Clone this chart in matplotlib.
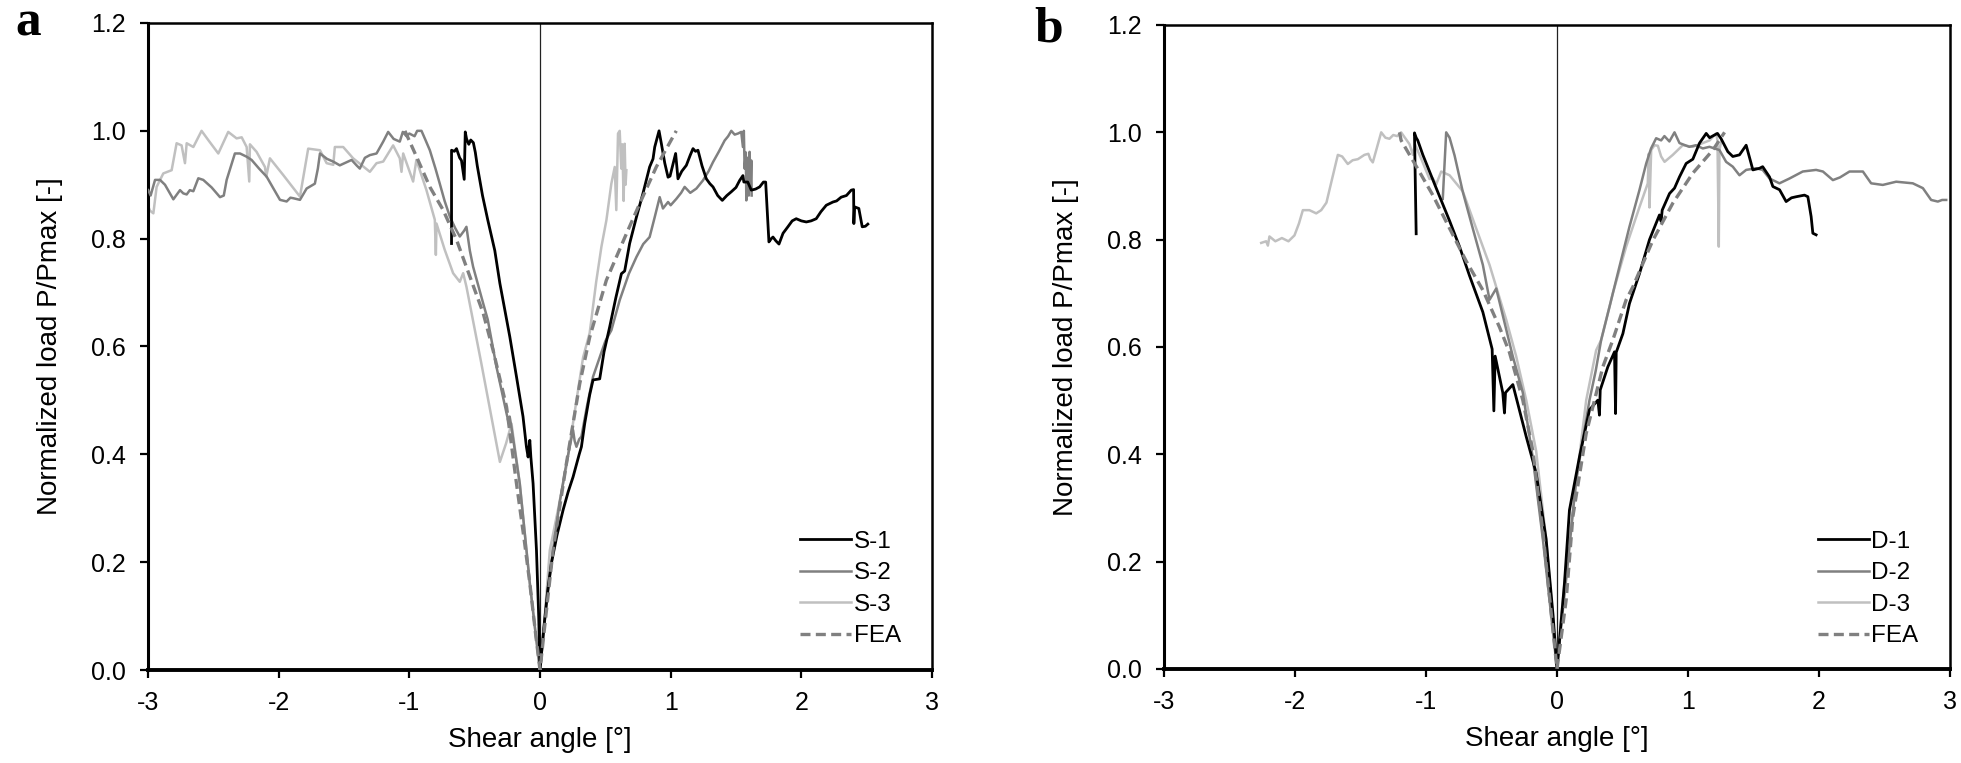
import matplotlib
matplotlib.use('Agg')
import matplotlib.pyplot as plt

plt.rcParams['font.family'] = ['Liberation Sans', 'DejaVu Sans']

# ---- panel a : S specimens + FEA ----
a_s1_x = [-0.677, -0.677, -0.655, -0.639, -0.615, -0.601, -0.580, -0.572, -0.562, -0.545, -0.530, -0.510,
          -0.495, -0.480, -0.440, -0.400, -0.346, -0.307, -0.231, -0.180, -0.130, -0.104, -0.091, -0.078,
          -0.070, -0.053, -0.027, -0.010, 0.0,
          0.030, 0.060, 0.087, 0.130, 0.177, 0.215, 0.253, 0.300, 0.317, 0.342, 0.380, 0.406, 0.457, 0.490,
          0.533, 0.580, 0.623, 0.648, 0.686, 0.738, 0.788, 0.839, 0.865, 0.878, 0.911, 0.929, 0.955, 0.980,
          0.995, 1.038, 1.056, 1.085, 1.120, 1.150, 1.171, 1.190, 1.209, 1.240, 1.273, 1.300, 1.324, 1.360,
          1.395, 1.430, 1.464, 1.500, 1.528, 1.553, 1.560, 1.590, 1.617, 1.650, 1.681, 1.710, 1.727, 1.752,
          1.770, 1.783, 1.805, 1.829, 1.860, 1.897, 1.930, 1.961, 2.000, 2.038, 2.075, 2.114, 2.150, 2.191,
          2.242, 2.270, 2.305, 2.345, 2.382, 2.400, 2.402, 2.407, 2.440, 2.466, 2.490, 2.509]
a_s1_y = [0.791, 0.964, 0.962, 0.967, 0.950, 0.945, 0.910, 0.998, 0.985, 0.975, 0.983, 0.978,
          0.960, 0.935, 0.880, 0.835, 0.778, 0.717, 0.618, 0.544, 0.470, 0.414, 0.395, 0.426,
          0.395, 0.346, 0.222, 0.100, 0.0,
          0.080, 0.150, 0.198, 0.250, 0.297, 0.330, 0.358, 0.400, 0.414, 0.457, 0.510, 0.538, 0.540, 0.590,
          0.636, 0.690, 0.735, 0.740, 0.791, 0.840, 0.884, 0.933, 0.948, 0.970, 1.000, 0.976, 0.940, 0.914,
          0.916, 0.958, 0.911, 0.925, 0.936, 0.955, 0.967, 0.962, 0.964, 0.935, 0.911, 0.902, 0.896, 0.880,
          0.871, 0.880, 0.887, 0.895, 0.908, 0.917, 0.905, 0.905, 0.890, 0.892, 0.896, 0.905, 0.905, 0.794,
          0.800, 0.803, 0.796, 0.790, 0.810, 0.822, 0.833, 0.837, 0.833, 0.831, 0.833, 0.837, 0.850, 0.862,
          0.868, 0.870, 0.877, 0.880, 0.890, 0.891, 0.828, 0.859, 0.856, 0.822, 0.823, 0.827]

a_s2_x = [-2.998, -2.980, -2.946, -2.908, -2.870, -2.806, -2.755, -2.730, -2.704, -2.680, -2.653, -2.615,
          -2.577, -2.513, -2.449, -2.420, -2.398, -2.335, -2.296, -2.245, -2.207, -2.150, -2.092, -2.040,
          -1.990, -1.939, -1.910, -1.888, -1.837, -1.786, -1.723, -1.700, -1.684, -1.630, -1.583, -1.532,
          -1.442, -1.400, -1.379, -1.340, -1.302, -1.251, -1.200, -1.162, -1.120, -1.073, -1.050, -1.022,
          -1.000, -0.960, -0.940, -0.907, -0.880, -0.843, -0.800, -0.767, -0.730, -0.690, -0.650, -0.614,
          -0.580, -0.563, -0.537, -0.512, -0.435, -0.400, -0.333, -0.256, -0.244, -0.232, -0.219, -0.155,
          -0.078, -0.030, 0.0,
          0.040, 0.100, 0.150, 0.202, 0.253, 0.265, 0.279, 0.300, 0.317, 0.360, 0.406, 0.457, 0.500, 0.546,
          0.610, 0.680, 0.738, 0.790, 0.839, 0.878, 0.916, 0.941, 0.980, 1.000, 1.044, 1.080, 1.107, 1.150,
          1.197, 1.247, 1.290, 1.324, 1.370, 1.413, 1.440, 1.464, 1.490, 1.515, 1.540, 1.553, 1.560, 1.566,
          1.575, 1.579, 1.590, 1.598, 1.604, 1.612, 1.617, 1.620]
a_s2_y = [0.890, 0.880, 0.909, 0.909, 0.900, 0.873, 0.890, 0.884, 0.882, 0.890, 0.888, 0.912,
          0.909, 0.895, 0.877, 0.880, 0.909, 0.958, 0.958, 0.952, 0.946, 0.930, 0.915, 0.893,
          0.872, 0.869, 0.876, 0.875, 0.872, 0.893, 0.902, 0.930, 0.958, 0.948, 0.943, 0.936,
          0.946, 0.935, 0.930, 0.950, 0.955, 0.958, 0.980, 0.998, 0.985, 0.980, 0.998, 0.990,
          0.995, 0.990, 1.000, 1.000, 0.985, 0.964, 0.930, 0.902, 0.870, 0.841, 0.820, 0.804,
          0.815, 0.822, 0.778, 0.748, 0.680, 0.650, 0.562, 0.476, 0.463, 0.470, 0.451, 0.346,
          0.161, 0.060, 0.0,
          0.100, 0.222, 0.310, 0.383, 0.445, 0.425, 0.414, 0.428, 0.433, 0.490, 0.544, 0.580, 0.610, 0.630,
          0.686, 0.735, 0.766, 0.790, 0.803, 0.840, 0.877, 0.856, 0.868, 0.862, 0.874, 0.885, 0.896, 0.885,
          0.893, 0.908, 0.925, 0.942, 0.962, 0.982, 0.990, 1.000, 0.993, 0.995, 0.998, 0.970, 1.000, 0.930,
          0.960, 0.871, 0.950, 0.880, 0.961, 0.900, 0.945, 0.880]

a_s3_x = [-2.997, -2.985, -2.959, -2.934, -2.883, -2.819, -2.781, -2.743, -2.717, -2.704, -2.653, -2.590,
          -2.539, -2.462, -2.386, -2.322, -2.283, -2.245, -2.225, -2.220, -2.169, -2.105, -2.095, -2.067,
          -1.965, -1.837, -1.774, -1.684, -1.633, -1.582, -1.570, -1.506, -1.430, -1.302, -1.251, -1.200,
          -1.124, -1.073, -1.060, -1.047, -0.971, -0.946, -0.869, -0.805, -0.797, -0.792, -0.730, -0.665,
          -0.614, -0.588, -0.563, -0.450, -0.307, -0.260, -0.218, -0.155, -0.078, -0.030, 0.0,
          0.030, 0.075, 0.140, 0.202, 0.279, 0.330, 0.380, 0.430, 0.470, 0.508, 0.546, 0.572, 0.584, 0.597,
          0.610, 0.622, 0.630, 0.640, 0.648, 0.655, 0.661]
a_s3_y = [0.859, 0.852, 0.847, 0.896, 0.921, 0.927, 0.977, 0.973, 0.940, 0.977, 0.970, 1.000,
          0.983, 0.958, 0.998, 0.986, 0.988, 0.970, 0.906, 0.975, 0.961, 0.933, 0.915, 0.949,
          0.918, 0.878, 0.967, 0.964, 0.940, 0.937, 0.970, 0.970, 0.949, 0.924, 0.940, 0.943,
          0.973, 0.949, 0.924, 0.958, 0.906, 0.946, 0.890, 0.835, 0.770, 0.828, 0.780, 0.736,
          0.720, 0.736, 0.711, 0.570, 0.386, 0.420, 0.457, 0.346, 0.161, 0.060, 0.0,
          0.080, 0.222, 0.300, 0.377, 0.500, 0.580, 0.625, 0.720, 0.785, 0.834, 0.902, 0.933, 0.853, 0.995,
          1.000, 0.930, 0.975, 0.870, 0.976, 0.900, 0.927]

a_fea_x = [-1.034, -0.945, -0.843, -0.741, -0.639, -0.537, -0.435, -0.359, -0.256, -0.180, -0.120, -0.078,
           -0.035, 0.0, 0.040, 0.100, 0.202, 0.304, 0.380, 0.508, 0.661, 0.763, 0.890, 1.043]
a_fea_y = [1.000, 0.952, 0.896, 0.853, 0.798, 0.730, 0.662, 0.593, 0.488, 0.346, 0.240, 0.161,
           0.070, 0.0, 0.090, 0.222, 0.383, 0.531, 0.617, 0.723, 0.809, 0.865, 0.933, 1.000]

# ---- panel b : D specimens + FEA ----
b_d1_x = [-1.075, -1.088, -1.075, -1.063, -1.024, -0.922, -0.820, -0.744, -0.668, -0.566, -0.495, -0.482,
          -0.472, -0.414, -0.401, -0.393, -0.337, -0.299, -0.235, -0.159, -0.083, -0.030, 0.0,
          0.057, 0.095, 0.172, 0.248, 0.312, 0.324, 0.330, 0.388, 0.439, 0.447, 0.452, 0.503, 0.553, 0.630,
          0.706, 0.782, 0.795, 0.803, 0.859, 0.897, 0.935, 0.986, 1.037, 1.088, 1.139, 1.165, 1.202, 1.225,
          1.253, 1.304, 1.342, 1.393, 1.444, 1.482, 1.495, 1.546, 1.570, 1.622, 1.648, 1.699, 1.749, 1.790,
          1.826, 1.889, 1.915, 1.940, 1.953, 1.978]
b_d1_y = [0.811, 0.999, 0.990, 0.985, 0.958, 0.896, 0.835, 0.787, 0.733, 0.665, 0.596, 0.481,
          0.583, 0.515, 0.477, 0.515, 0.530, 0.494, 0.433, 0.365, 0.242, 0.100, 0.0,
          0.160, 0.296, 0.396, 0.483, 0.501, 0.473, 0.520, 0.563, 0.591, 0.476, 0.590, 0.625, 0.681, 0.737,
          0.800, 0.846, 0.834, 0.855, 0.886, 0.896, 0.917, 0.942, 0.950, 0.980, 0.998, 0.990, 0.995, 0.998,
          0.988, 0.964, 0.955, 0.958, 0.976, 0.942, 0.930, 0.933, 0.936, 0.917, 0.899, 0.893, 0.871, 0.878,
          0.880, 0.883, 0.880, 0.843, 0.812, 0.809]

b_d2_x = [-0.872, -0.846, -0.820, -0.782, -0.719, -0.643, -0.566, -0.515, -0.464, -0.413, -0.338, -0.261,
          -0.184, -0.108, -0.040, 0.0,
          0.040, 0.080, 0.146, 0.248, 0.295, 0.337, 0.401, 0.477, 0.553, 0.630, 0.681, 0.718, 0.757, 0.795,
          0.820, 0.858, 0.897, 0.935, 1.010, 1.060, 1.113, 1.164, 1.240, 1.291, 1.342, 1.393, 1.444, 1.520,
          1.570, 1.622, 1.698, 1.775, 1.876, 1.978, 2.030, 2.106, 2.160, 2.233, 2.335, 2.398, 2.487, 2.589,
          2.716, 2.793, 2.856, 2.907, 2.940, 2.971]
b_d2_y = [0.876, 1.000, 0.990, 0.957, 0.889, 0.821, 0.753, 0.688, 0.709, 0.658, 0.583, 0.515,
          0.392, 0.242, 0.090, 0.0,
          0.100, 0.190, 0.352, 0.501, 0.555, 0.613, 0.675, 0.750, 0.824, 0.893, 0.942, 0.970, 0.989, 0.985,
          0.993, 0.983, 1.000, 0.980, 0.973, 0.976, 0.970, 0.973, 0.967, 0.945, 0.936, 0.920, 0.930, 0.933,
          0.930, 0.914, 0.905, 0.914, 0.927, 0.930, 0.927, 0.911, 0.916, 0.927, 0.927, 0.905, 0.902, 0.908,
          0.905, 0.896, 0.874, 0.871, 0.874, 0.874]

b_d3_x = [-2.258, -2.220, -2.207, -2.195, -2.150, -2.100, -2.050, -2.004, -1.970, -1.940, -1.890, -1.838,
          -1.800, -1.760, -1.720, -1.673, -1.640, -1.597, -1.560, -1.520, -1.470, -1.440, -1.425, -1.406,
          -1.342, -1.310, -1.279, -1.250, -1.220, -1.190, -1.126, -1.100, -1.085, -1.037, -0.973, -0.950,
          -0.922, -0.884, -0.820, -0.719, -0.617, -0.515, -0.388, -0.312, -0.235, -0.159, -0.083, -0.030, 0.0,
          0.030, 0.070, 0.146, 0.223, 0.299, 0.337, 0.426, 0.528, 0.630, 0.693, 0.700, 0.706, 0.719, 0.744,
          0.770, 0.795, 0.821, 0.884, 0.960, 1.037, 1.113, 1.165, 1.215, 1.225, 1.235, 1.240, 1.253]
b_d3_y = [0.794, 0.797, 0.789, 0.806, 0.797, 0.803, 0.797, 0.808, 0.830, 0.855, 0.855, 0.849,
          0.855, 0.869, 0.910, 0.958, 0.955, 0.941, 0.948, 0.950, 0.958, 0.960, 0.950, 0.944,
          1.000, 0.990, 0.988, 0.995, 0.993, 1.000, 0.978, 0.958, 0.978, 0.951, 0.913, 0.915,
          0.903, 0.927, 0.920, 0.890, 0.821, 0.753, 0.651, 0.583, 0.501, 0.406, 0.242, 0.090, 0.0,
          0.090, 0.191, 0.346, 0.501, 0.594, 0.613, 0.700, 0.787, 0.861, 0.905, 0.960, 0.860, 0.967, 0.976,
          0.975, 0.955, 0.945, 0.958, 0.976, 0.973, 0.980, 0.985, 0.998, 0.985, 0.787, 0.967, 0.983]

b_fea_x = [-1.202, -1.190, -1.075, -0.948, -0.820, -0.693, -0.566, -0.439, -0.363, -0.261, -0.184, -0.108,
           -0.045, 0.0, 0.070, 0.121, 0.223, 0.350, 0.426, 0.528, 0.579, 0.732, 0.884, 1.037, 1.190, 1.279]
b_fea_y = [1.000, 0.985, 0.937, 0.883, 0.821, 0.760, 0.706, 0.637, 0.590, 0.501, 0.406, 0.256,
           0.106, 0.0, 0.129, 0.284, 0.439, 0.563, 0.613, 0.688, 0.712, 0.799, 0.868, 0.924, 0.967, 1.000]

a_labels = ['S-1', 'S-2', 'S-3', 'FEA']
b_labels = ['D-1', 'D-2', 'D-3', 'FEA']

x_ticks = [-3, -2, -1, 0, 1, 2, 3]
y_ticks = [0.0, 0.2, 0.4, 0.6, 0.8, 1.0, 1.2]


def draw_panel(ax, series, labels):
    """Draw one load/angle panel in the Excel-like style of the reference."""
    colors = ['#000000', '#808080', '#c0c0c0', '#808080']
    widths = [2.0, 1.8, 1.8, 2.4]
    zorders = [4, 3, 2, 5]
    ax.axvline(0, color='#222222', lw=0.9, zorder=1)
    for i, (xs, ys) in enumerate(series):
        ls = (0, (3, 1.6)) if labels[i] == 'FEA' else '-'
        ax.plot(xs, ys, color=colors[i], lw=widths[i], ls=ls, label=labels[i], zorder=zorders[i])
    ax.set_xlim(-3, 3)
    ax.set_ylim(0, 1.2)
    ax.set_xticks(x_ticks)
    ax.set_xticklabels([str(t) for t in x_ticks])
    ax.set_yticks(y_ticks)
    ax.set_yticklabels(['%.1f' % t for t in y_ticks])
    ax.tick_params(axis='both', direction='out', length=6, width=1.6, labelsize=18, colors='black')
    ax.tick_params(axis='x', pad=9)
    ax.tick_params(axis='y', pad=10)
    ax.spines['left'].set_linewidth(2.2)
    ax.spines['bottom'].set_linewidth(2.8)
    ax.spines['top'].set_linewidth(1.8)
    ax.spines['right'].set_linewidth(1.8)
    ax.set_xlabel('Shear angle [°]', fontsize=20)
    ax.set_ylabel('Normalized load P/Pmax [-]', fontsize=20)
    ax.xaxis.set_label_coords(0.5, -0.088)
    ax.yaxis.set_label_coords(-0.108, 0.5)
    ax.legend(loc='upper left', bbox_to_anchor=(0.832, 0.215), frameon=False, fontsize=17.5,
              handlelength=2.1, handletextpad=0.1, labelspacing=0.39, borderpad=0, borderaxespad=0)


fig = plt.figure(figsize=(19.61, 7.63), dpi=100)
ax_a = fig.add_axes([148 / 1961, 1 - 670 / 763, 784 / 1961, 647 / 763])
ax_b = fig.add_axes([1164 / 1961, 1 - 669 / 763, 786 / 1961, 644 / 763])

draw_panel(ax_a, [(a_s1_x, a_s1_y), (a_s2_x, a_s2_y), (a_s3_x, a_s3_y), (a_fea_x, a_fea_y)], a_labels)
draw_panel(ax_b, [(b_d1_x, b_d1_y), (b_d2_x, b_d2_y), (b_d3_x, b_d3_y), (b_fea_x, b_fea_y)], b_labels)

fig.text(15 / 1961, 1 - 36 / 763, 'a', fontfamily='Liberation Serif', fontweight='bold', fontsize=37,
         ha='left', va='baseline')
fig.text(1034 / 1961, 1 - 41 / 763, 'b', fontfamily='Liberation Serif', fontweight='bold', fontsize=37,
         ha='left', va='baseline')

fig.savefig('out.png', dpi=100)
